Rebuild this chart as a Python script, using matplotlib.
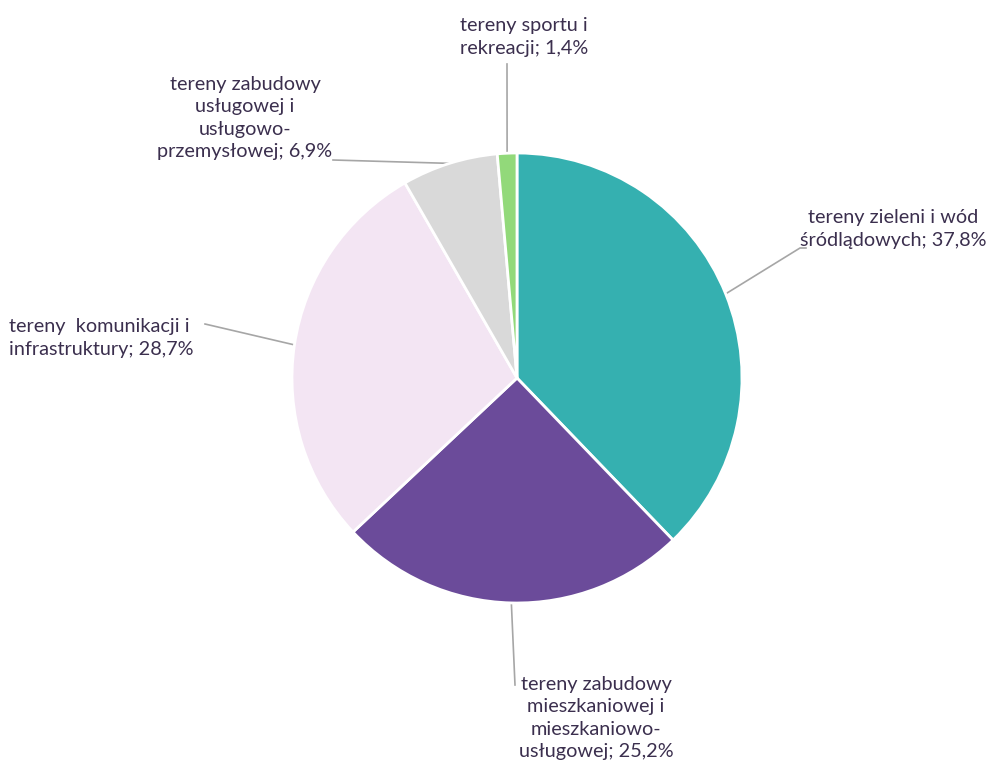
import matplotlib
matplotlib.use("Agg")
import matplotlib.pyplot as plt
import numpy as np

labels = [
    "tereny zieleni i wód\nśródlądowych; 37,8%",
    "tereny zabudowy\nmieszkaniowej i\nmieszkaniowo-\nusługowej; 25,2%",
    "tereny  komunikacji i\ninfrastruktury; 28,7%",
    "tereny zabudowy\nusługowej i\nusługowo-\nprzemysłowej; 6,9%",
    "tereny sportu i\nrekreacji; 1,4%",
]
values = [37.8, 25.2, 28.7, 6.9, 1.4]
colors = ["#35B0B0", "#6B4B9A", "#F3E5F3", "#D9D9D9", "#92D97A"]

W, H = 1005, 769
fig = plt.figure(figsize=(W / 100, H / 100), dpi=100)
ax = fig.add_axes([0, 0, 1, 1])

cx, cy, r = 517, H - 378, 225
wedges, _ = ax.pie(values, colors=colors, startangle=90, counterclock=False,
                   center=(cx, cy), radius=r, frame=True,
                   wedgeprops=dict(edgecolor="white", linewidth=2))
ax.set_xlim(0, W)
ax.set_ylim(0, H)
ax.set_aspect("equal")
ax.axis("off")

# label layout: text anchor x, y (px from top), alignment, leader line bends
layout = [
    (893, 229, "center", [(800, 248), (806, 248)]),
    (596, 718, "center", [(515, 685)]),
    (9, 338, "left", [(205, 324)]),
    (245, 118, "center", [(333, 160)]),
    (524, 37, "center", [(507, 64)]),
]

txt_color = "#3B2F4E"
for w, lab, (tx, ty, ha, pts) in zip(wedges, labels, layout):
    ang = np.deg2rad((w.theta1 + w.theta2) / 2)
    ex, ey = cx + r * np.cos(ang), cy + r * np.sin(ang)
    xs = [ex] + [p[0] for p in pts]
    ys = [ey] + [H - p[1] for p in pts]
    ax.plot(xs, ys, color="#A6A6A6", lw=1.2, zorder=0)
    ax.text(tx, H - ty, lab, ha=ha, va="center", fontsize=14.3,
            family=["Lato", "DejaVu Sans"], color=txt_color, linespacing=1.4,
            multialignment="center" if ha == "center" else "left")

fig.savefig("out.png", dpi=100)
